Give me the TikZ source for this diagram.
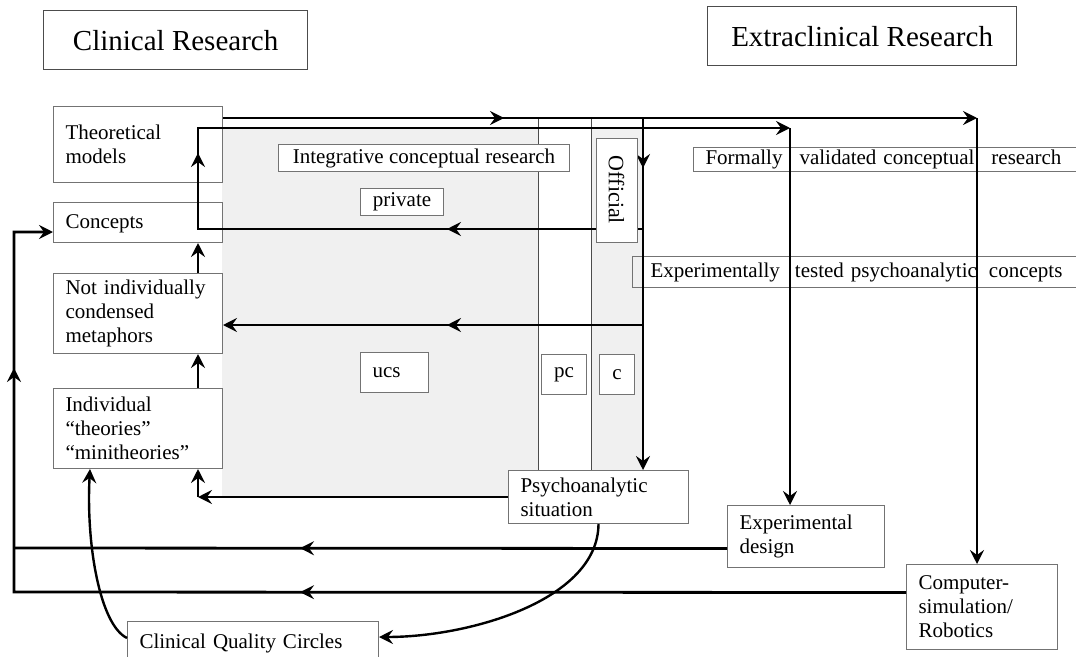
\documentclass[tikz,border=0pt]{standalone}
\usepackage{fontspec}
\setmainfont{Liberation Serif}
\usetikzlibrary{arrows.meta}
\usetikzlibrary{calc}
\usetikzlibrary{decorations.markings}

\begin{document}
\begin{tikzpicture}[x=1pt,y=-1pt,
    box/.style={draw=black!55, line width=1pt, fill=white, inner ysep=0pt, inner xsep=12pt,
        font=\fontsize{21}{24}\selectfont, anchor=north west},
    lbox/.style={box, align=left, text width=#1},
    hbox/.style={draw=black!70, line width=1.2pt, font=\fontsize{29}{34}\selectfont, anchor=north west},
    wire/.style={line width=2.8pt},
    wirearr/.style={wire, -{Stealth[length=14pt,width=14pt,inset=5pt]}},
    midtip/.style={postaction={decorate}, decoration={markings,
        mark=at position #1 with {\arrow{Stealth[length=14pt,width=14pt,inset=5pt]}}}},
    midtip2/.style 2 args={postaction={decorate}, decoration={markings,
        mark=at position #1 with {\arrow{Stealth[length=14pt,width=14pt,inset=5pt]}},
        mark=at position #2 with {\arrow{Stealth[length=14pt,width=14pt,inset=5pt]}}}}]
                \clip (0,0) rectangle (1076,656);
                % shaded field ucs / pc / c
                \fill[black!6] (222,128) rectangle (643,497);
                \fill[white] (538,118) rectangle (591,470);
                \draw[black!70, line width=0.8pt] (538,118) -- (538,470) (591,118) -- (591,470);
                % headings
                \node[hbox, minimum width=264pt, minimum height=59pt] (clin) at (43,10) {Clinical Research};
                \node[hbox, minimum width=309pt, minimum height=59pt] (extra) at (707,6) {Extraclinical Research};
                % clinical column
                \node[lbox=145pt, minimum height=76pt] (theo) at (53,106) {Theoretical\\models};
                \node[lbox=145pt, minimum height=40pt, text depth=2pt] (conc) at (53,202) {Concepts};
                \node[lbox=145pt, minimum height=80pt] (metaph) at (53,273) {Not individually\\condensed\\metaphors};
                \node[lbox=145pt, minimum height=80pt] (indiv) at (53,388) {Individual\\“theories”\\“minitheories”};
                \node[lbox=227pt, minimum height=44pt] (cqc) at (127,621) {Clinical Quality Circles};
                % inside the field
                \node[box, minimum width=291pt, minimum height=27pt] (integ) at (278,144) {Integrative conceptual research};
                \node[box, minimum width=83pt, minimum height=27pt] (priv) at (360,188) {private};
                \node[lbox=44pt, minimum height=40pt] (ucs) at (360,352) {ucs};
                \node[box, minimum width=45pt, minimum height=40pt] (pc) at (541,354) {pc};
                \node[box, minimum width=35pt, minimum height=40pt] (cbox) at (599,354) {c};
                \node[lbox=156pt, minimum height=53pt] (psy) at (508,470) {Psychoanalytic\\situation};
                % extraclinical column
                \node[lbox=380pt, minimum height=24pt, fill=none] (formal) at (693,147)
                    {Formally\hspace{17pt}validated conceptual\hspace{17pt}research};
                \node[lbox=430pt, inner xsep=18pt, minimum height=31pt, fill=none] (expt) at (632,256)
                    {Experimentally\hspace{15pt}tested psychoanalytic\hspace{12pt}concepts};
                \node[lbox=133pt, minimum height=62pt] (expdes) at (727,505) {Experimental\\design};
                \node[lbox=127pt, minimum height=85pt] (compsim) at (906,564) {Computer-\\simulation/\\Robotics};
                % junctions
                \coordinate (topS) at ($(theo.north east)+(0,12)$);
                \coordinate (topR) at (977,118);
                \coordinate (jA) at (643,118);
                \coordinate (loopL) at (198,128);
                \coordinate (loopR) at (790,128);
                \coordinate (loopB) at (198,229);
                \coordinate (jB) at (643,229);
                \coordinate (jC) at (643,325);
                \coordinate (retL) at (198,497);
                \coordinate (leftM) at (14,548);
                \coordinate (leftB) at (14,592);
                \coordinate (leftT) at (14,232);
                % connectors
                \draw[wirearr, midtip=281pt] (topS) -- (topR);
                \draw[wirearr] (topR) -- (topR |- compsim.north);
                \draw[wirearr, midtip=50pt] (jA) -- (jA |- psy.north);
                \draw[wirearr, midtip2={196pt}{521pt}] (jB) -- (loopB) -- (loopL) -- (loopR);
                \draw[wirearr] (loopR) -- (loopR |- expdes.north);
                \draw[wirearr, midtip=196pt] (jC) -- (jC -| metaph.east);
                \draw[wirearr] (psy.west) -- (retL);
                \draw[wirearr] (retL) -- (retL |- indiv.south);
                \draw[wirearr] (indiv.north -| loopL) -- (metaph.south -| loopL);
                \draw[wirearr] (metaph.north -| loopL) -- (conc.south -| loopL);
                \draw[wire, midtip=427pt] ($(expdes.west)+(0,12)$) -- (leftM);
                \draw[wirearr, midtip2={606pt}{1116pt}] ($(compsim.west)+(0,-14.5)$) -- (leftB) -- (leftT) -- (conc.west |- leftT);
                \draw[wirearr, line width=2.4pt] (psy.south) .. controls (598,600) and (470,637) .. ($(cqc.north east)+(0,16)$);
                \draw[wirearr, line width=2.4pt] ($(cqc.north west)+(0,17)$) .. controls (100,625) and (86,545) .. ($(indiv.south west)+(37,0)$);
                % label over the loop
                \node[box, rotate=-90, anchor=center, minimum width=104pt, minimum height=41pt, inner xsep=0pt,
                    font=\fontsize{22}{26}\selectfont] (offic) at (616.5,190) {Official};
            \end{tikzpicture}
\end{document}
